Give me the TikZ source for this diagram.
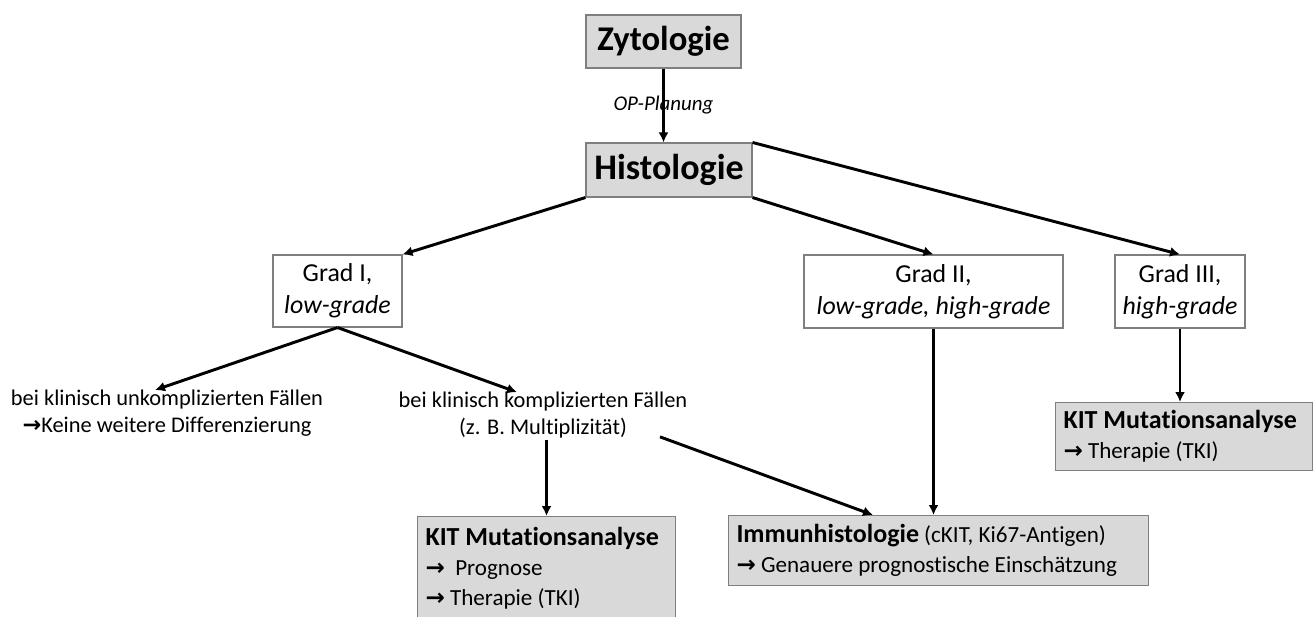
\documentclass[tikz,border=0pt]{standalone}
\usepackage{fontspec}
\setmainfont{Carlito}[Ligatures={NoCommon}]
\newfontfamily\arrowfont{DejaVu Sans}
\usetikzlibrary{calc,arrows.meta}
\definecolor{boxgray}{HTML}{D9D9D9}
\definecolor{edgegray}{HTML}{7F7F7F}
\newcommand{\boxhead}[1]{{\fontsize{19.5}{22.5}\selectfont\bfseries #1}}
\newcommand{\pfeil}{{\arrowfont\bfseries\fontsize{1em}{1em}\selectfont →}}
\tikzset{graybox/.style={draw=edgegray, fill=boxgray, line width=.8pt, inner xsep=6pt, inner ysep=3pt,
                         align=flush left, font=\fontsize{17.3}{22.5}\selectfont},
         whitebox/.style={draw=edgegray, fill=white, line width=.8pt, align=center, inner sep=2pt,
                          font=\fontsize{19.4}{24}\selectfont},
         flow/.style={-{Latex[length=7.5pt,width=7.5pt]}, line width=2.2pt},
         case/.style={align=center, inner sep=1pt, font=\fontsize{16.8}{20.5}\selectfont}}

\begin{document}
\begin{tikzpicture}[x=0.75pt, y=-0.75pt]
    \useasboundingbox (0,0) rectangle (1314,617);

    \node[graybox, align=center, minimum width=116.25pt, minimum height=39.75pt, font=\fontsize{26}{30}\selectfont\bfseries] (zyto) at (663.5,41.5) {Zytologie};
    \node[graybox, align=center, minimum width=124.5pt, minimum height=40.5pt, font=\fontsize{27}{32}\selectfont\bfseries] (histo) at (669,170) {Histologie};

    \node[whitebox, minimum width=96.75pt, minimum height=54pt] (g1) at (337.5,291) {Grad I,\\ \textit{low-grade}};
    \node[whitebox, minimum width=194.25pt, minimum height=54.75pt] (g2) at (933.5,291.5) {Grad II,\\ \textit{low-grade, high-grade}};
    \node[whitebox, minimum width=97.5pt, minimum height=54.75pt] (g3) at (1180,291.5) {Grad III,\\ \textit{high-grade}};

    \node[case] (easy) at (167,413) {bei klinisch unkomplizierten Fällen\\ \pfeil Keine weitere Differenzierung};
    \node[case] (hard) at (543,415) {bei klinisch komplizierten Fällen\\ (z. B. Multiplizität)};

    \node[graybox, minimum width=193.5pt, minimum height=78pt, anchor=north west, text width=181.5pt] (kit1) at (417,516)
      {\boxhead{KIT Mutationsanalyse}\\ \pfeil\ \ Prognose\\ \pfeil\ Therapie (TKI)};
    \node[graybox, minimum width=315pt, minimum height=52.5pt, anchor=north west, text width=303pt] (immun) at (728,515)
      {\boxhead{Immunhistologie} (cKIT, Ki67-Antigen)\\ \pfeil\ Genauere prognostische Einschätzung};
    \node[graybox, minimum width=192.75pt, minimum height=51pt, anchor=north west, text width=180.75pt] (kit2) at (1055,402)
      {\boxhead{KIT Mutationsanalyse}\\ \pfeil\ Therapie (TKI)};

    % Verbindungen
    \draw[flow] (zyto.south) -- node[inner sep=1pt, font=\fontsize{15.7}{18}\selectfont\itshape] {OP-Planung} (zyto.south |- histo.north);
    \draw[flow] (histo.south west) -- (g1.north east);
    \draw[flow] (histo.south east) -- (g2.north);
    \draw[flow] (histo.north east) -- (g3.north);
    \draw[flow] (g1.south) -- ($(easy.north)+(-12,2)$);
    \draw[flow] (g1.south) -- ($(hard.north)+(-26,2)$);
    \draw[flow] (kit1.north |- hard.south) -- (kit1.north);
    \draw[flow] ($(hard.south)+(117,-3)$) -- ($(immun.north west)+(145,0)$);
    \draw[flow] (g2.south) -- (g2.south |- immun.north);
    \draw[flow] (g3.south) -- (g3.south |- kit2.north);
\end{tikzpicture}
\end{document}
